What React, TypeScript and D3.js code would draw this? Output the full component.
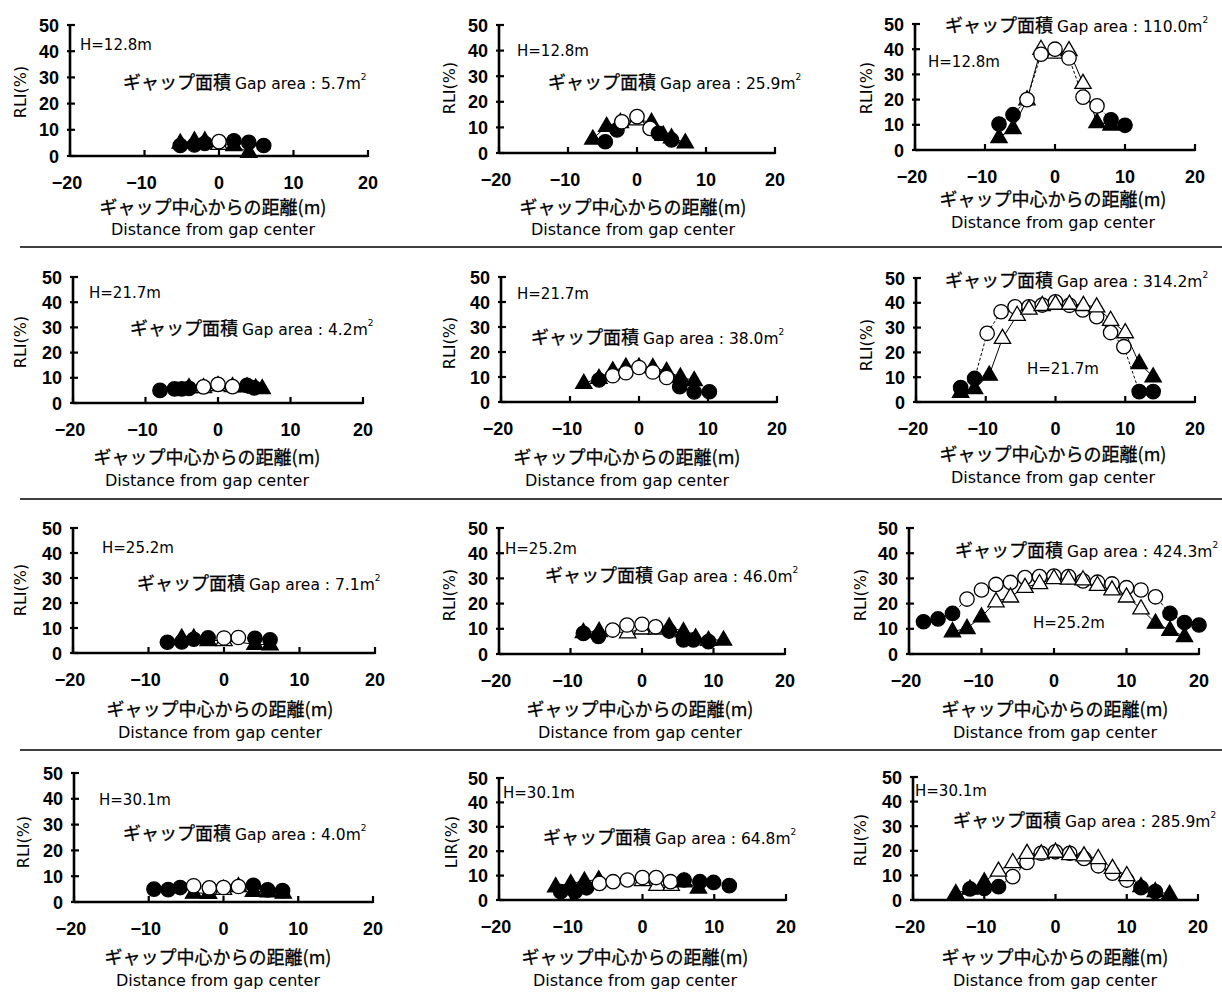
import React from 'react';
import * as d3 from 'd3';

type Pt = [number, number, number]; // distance, RLI, filled(1)/open(0)

const xTicks = [-20, -10, 0, 10, 20];
const yTicks = [0, 10, 20, 30, 40, 50];

const heights = ['12.8', '12.8', '12.8', '21.7', '21.7', '21.7', '25.2', '25.2', '25.2', '30.1', '30.1', '30.1'];
const gapAreas = ['5.7', '25.9', '110.0', '4.2', '38.0', '314.2', '7.1', '46.0', '424.3', '4.0', '64.8', '285.9'];
const yTitles = ['RLI(%)', 'RLI(%)', 'RLI(%)', 'RLI(%)', 'RLI(%)', 'RLI(%)', 'RLI(%)', 'RLI(%)', 'RLI(%)', 'RLI(%)', 'LIR(%)', 'RLI(%)'];
const xTitleJa = 'ギャップ中心からの距離(m)';
const xTitleEn = 'Distance from gap center';

const p1Circles: Pt[] = [[-5.2, 4, 1], [-3.3, 4.2, 1], [-1.9, 4.8, 1], [0, 5.5, 0], [2, 5.8, 1], [4, 5.2, 1], [6, 4, 1]];
const p1Triangles: Pt[] = [[-5.2, 5, 1], [-3.3, 5.8, 1], [-1.9, 5.8, 1], [0, 4.5, 0], [2, 4, 1], [4, 1.5, 1]];

const p2Circles: Pt[] = [[-4.6, 4.4, 1], [-2.9, 9, 1], [-2.2, 12.2, 0], [0, 14.2, 0], [1.9, 9.6, 0], [3.1, 7.7, 1], [5, 5.1, 1]];
const p2Triangles: Pt[] = [[-6.4, 5.5, 1], [-4.4, 10.5, 1], [-2.4, 12, 1], [0, 13, 0], [2.1, 12, 1], [3.8, 7, 1], [5, 6, 1], [7, 4, 1]];

const p3Circles: Pt[] = [[-8, 10.3, 1], [-6, 14, 1], [-4, 20, 0], [-2, 38, 0], [0, 40, 0], [2, 36.5, 0], [4, 21, 0], [6, 17.5, 0], [8, 12, 1], [10, 9.8, 1]];
const p3Triangles: Pt[] = [[-8, 5, 1], [-6, 8.6, 1], [-4, 20, 0], [-2, 40, 0], [0, 38.5, 0], [2, 39.5, 0], [4, 26.5, 0], [6, 11, 1], [8, 10, 1]];

const p4Circles: Pt[] = [[-8, 5, 1], [-6, 5.6, 1], [-5, 5.6, 1], [-4, 5.8, 1], [-2, 6.4, 0], [0, 7.4, 0], [2, 6.5, 0], [4, 7, 1], [5, 6, 1]];
const p4Triangles: Pt[] = [[-4, 6.2, 1], [-2, 6.2, 0], [0, 7, 0], [2, 6.6, 0], [4, 6.5, 1], [5.2, 6, 1], [6.1, 5.8, 1]];

const p5Circles: Pt[] = [[-5.8, 8.8, 1], [-3.8, 10.5, 0], [-1.9, 11.7, 0], [0, 13.8, 0], [2, 12, 0], [4, 9.8, 0], [5.9, 6.1, 1], [8, 4, 1], [10.2, 4.1, 1]];
const p5Triangles: Pt[] = [[-8, 7.5, 1], [-5.8, 9.5, 1], [-3.8, 12.5, 1], [-1.9, 14, 1], [0, 14, 1], [2, 13.8, 1], [4, 12.3, 1], [6, 10, 1], [8, 8.6, 1]];

const p6Circles: Pt[] = [[-13.6, 5.8, 1], [-11.6, 9.5, 1], [-9.8, 27.7, 0], [-7.8, 36.4, 0], [-5.8, 38.4, 0], [-3.8, 38.4, 0], [-1.9, 39.1, 0], [0, 40.4, 0], [2, 39, 0], [3.9, 37.1, 0], [5.9, 34.4, 0], [7.9, 28, 0], [9.8, 22.3, 0], [12, 4.2, 1], [14, 4.2, 1]];
const p6Triangles: Pt[] = [[-13.6, 4, 1], [-11.6, 5.5, 1], [-9.5, 10.9, 1], [-7.6, 25.7, 0], [-5.5, 35, 0], [-3.8, 37.5, 0], [-1.9, 39, 0], [0, 39.5, 0], [2, 39.5, 0], [4, 39, 0], [5.9, 38.4, 0], [7.9, 33, 0], [10, 28, 0], [12, 15.6, 1], [14, 10.2, 1]];

const p7Circles: Pt[] = [[-7.5, 4.3, 1], [-5.6, 4.4, 1], [-4, 5.5, 1], [-2.1, 6.1, 1], [0, 6, 0], [1.9, 6.2, 0], [4.1, 5.9, 1], [6.1, 5.3, 1]];
const p7Triangles: Pt[] = [[-5.6, 6, 1], [-4, 6, 1], [-2.1, 5, 1], [0, 5, 0], [4.1, 3.5, 1], [6.1, 3.3, 1]];

const p8Circles: Pt[] = [[-8.2, 8.2, 1], [-6.1, 7, 1], [-4.1, 9.5, 0], [-2.1, 11.5, 0], [0, 11.8, 0], [1.9, 10.8, 0], [3.8, 9.1, 1], [5.8, 5.6, 1], [7.2, 5.6, 1], [9.3, 4.9, 1]];
const p8Triangles: Pt[] = [[-8.2, 8.6, 1], [-6, 9, 1], [-2, 8.5, 0], [0, 10, 0], [2, 10, 0], [3.8, 10.8, 1], [5.8, 8.9, 1], [7.5, 6.5, 1], [9.3, 5.5, 1], [11.4, 5.6, 1]];

const p9Circles: Pt[] = [[-18, 12.8, 1], [-16, 13.9, 1], [-14, 16.1, 1], [-12, 21.8, 0], [-10, 25.4, 0], [-8, 27.6, 0], [-6, 28.4, 0], [-4, 30.3, 0], [-2, 30.7, 0], [0, 30.9, 0], [2, 30.7, 0], [4, 29, 0], [6, 28.5, 0], [8, 27.8, 0], [10, 26.3, 0], [12, 25.4, 0], [14, 22.7, 0], [16, 16.1, 1], [18, 12.5, 1], [20, 11.5, 1]];
const p9Triangles: Pt[] = [[-14, 8.9, 1], [-12, 10.2, 1], [-10, 14.8, 1], [-8, 20.8, 0], [-6, 22.7, 0], [-4, 26.5, 0], [-2, 28, 0], [0, 30, 0], [2, 29.8, 0], [4, 29.5, 0], [6, 27.3, 0], [8, 25.5, 0], [10, 22.7, 0], [12, 18, 0], [14, 12.3, 1], [16, 9.5, 1], [18, 7, 1]];

const p10Circles: Pt[] = [[-9.3, 5, 1], [-7.4, 4.8, 1], [-5.8, 5.6, 1], [-4, 6.3, 0], [-1.9, 5.5, 0], [0, 5.6, 0], [2, 6, 0], [4, 6.5, 1], [5.9, 4.7, 1], [7.9, 4.4, 1]];
const p10Triangles: Pt[] = [[-4, 3.5, 1], [-2, 3.4, 1], [0, 5, 0], [2, 6, 0], [4, 4.2, 1], [6, 4, 1], [8, 3.5, 1]];

const p11Circles: Pt[] = [[-11.4, 3.4, 1], [-9.4, 3.4, 1], [-7.8, 5, 1], [-6, 6.8, 0], [-4.1, 7.5, 0], [-2.1, 8.2, 0], [0, 9.2, 0], [1.9, 9.2, 0], [3.9, 7.5, 0], [5.8, 8.2, 1], [8, 7.5, 1], [9.9, 7.2, 1], [12.1, 5.9, 1]];
const p11Triangles: Pt[] = [[-12.1, 5.5, 1], [-10, 6.8, 1], [-8.1, 7.8, 1], [-6.1, 8.3, 1], [0, 8, 0], [2, 6.1, 0], [4, 6.1, 0], [5.8, 7.5, 1], [7.8, 5, 1]];

const p12Circles: Pt[] = [[-12, 4.5, 1], [-10, 4.7, 1], [-8, 5.4, 1], [-6, 9.5, 0], [-4, 15.3, 0], [-2, 19, 0], [0, 19.6, 0], [2, 19, 0], [4, 16.9, 0], [6, 13.9, 0], [8, 10.9, 0], [10, 8.1, 0], [12, 5, 1], [14, 3.4, 1]];
const p12Triangles: Pt[] = [[-14, 2.7, 1], [-12, 4.5, 1], [-10, 7.4, 1], [-8, 11.8, 0], [-6, 15.3, 0], [-4, 19, 0], [-2, 18.8, 0], [0, 19.5, 0], [2, 18.5, 0], [4, 18, 0], [6, 16.9, 0], [8, 12.9, 0], [10, 10, 0], [12, 5.5, 1], [14, 3.5, 1], [16, 2.4, 1]];

const circleSeries = [p1Circles, p2Circles, p3Circles, p4Circles, p5Circles, p6Circles, p7Circles, p8Circles, p9Circles, p10Circles, p11Circles, p12Circles];
const triangleSeries = [p1Triangles, p2Triangles, p3Triangles, p4Triangles, p5Triangles, p6Triangles, p7Triangles, p8Triangles, p9Triangles, p10Triangles, p11Triangles, p12Triangles];

// layout (pixel boxes & text anchors)
type Layout = {
  xL: number; xR: number; yT: number; yB: number;
  hX: number; hY: number; gX: number; gY: number;
  labX: number; jY: number; eY: number; ylX: number; ylY: number; triTop: boolean;
};
const layouts: Layout[] = [
  { xL: 70, xR: 368, yT: 25, yB: 156, hX: 80, hY: 50, gX: 123, gY: 89, labX: 213, jY: 214, eY: 235, ylX: 20, ylY: 92, triTop: false },
  { xL: 499, xR: 775, yT: 25, yB: 153, hX: 517, hY: 56, gX: 548, gY: 89, labX: 633, jY: 214, eY: 235, ylX: 449, ylY: 88, triTop: false },
  { xL: 915, xR: 1195, yT: 24, yB: 150, hX: 928, hY: 67, gX: 945, gY: 32, labX: 1053, jY: 206, eY: 228, ylX: 866, ylY: 88, triTop: false },
  { xL: 73, xR: 363, yT: 277, yB: 403, hX: 89, hY: 298, gX: 130, gY: 335, labX: 207, jY: 464, eY: 486, ylX: 20, ylY: 342, triTop: false },
  { xL: 501, xR: 777, yT: 277, yB: 402, hX: 517, hY: 299, gX: 531, gY: 344, labX: 627, jY: 464, eY: 486, ylX: 449, ylY: 343, triTop: false },
  { xL: 916, xR: 1195, yT: 278, yB: 402, hX: 1027, hY: 374, gX: 945, gY: 287, labX: 1053, jY: 461, eY: 483, ylX: 866, ylY: 345, triTop: true },
  { xL: 73, xR: 375, yT: 528, yB: 653, hX: 102, hY: 553, gX: 137, gY: 590, labX: 220, jY: 716, eY: 738, ylX: 20, ylY: 590, triTop: false },
  { xL: 499, xR: 785, yT: 528, yB: 654, hX: 505, hY: 554, gX: 545, gY: 582, labX: 640, jY: 716, eY: 738, ylX: 449, ylY: 595, triTop: false },
  { xL: 909, xR: 1199, yT: 528, yB: 654, hX: 1033, hY: 628, gX: 955, gY: 557, labX: 1055, jY: 716, eY: 738, ylX: 860, ylY: 595, triTop: true },
  { xL: 74, xR: 373, yT: 773, yB: 902, hX: 99, hY: 805, gX: 123, gY: 840, labX: 218, jY: 964, eY: 986, ylX: 23, ylY: 842, triTop: false },
  { xL: 499, xR: 786, yT: 778, yB: 900, hX: 503, hY: 798, gX: 543, gY: 844, labX: 635, jY: 964, eY: 986, ylX: 451, ylY: 842, triTop: false },
  { xL: 913, xR: 1198, yT: 777, yB: 900, hX: 915, hY: 796, gX: 953, gY: 827, labX: 1055, jY: 964, eY: 986, ylX: 860, ylY: 840, triTop: true },
];
const separators = [247, 499, 750];

const TICKF = '"Liberation Sans", Arial, sans-serif';
const LATIN = '"DejaVu Sans", sans-serif';
const JP = '"Noto Sans CJK JP", sans-serif';

const triPath = d3.symbol(d3.symbolTriangle, 115)()!;

function Panel({ i }: { i: number }) {
  const L = layouts[i];
  const x = d3.scaleLinear().domain([-20, 20]).range([L.xL, L.xR]);
  const y = d3.scaleLinear().domain([0, 50]).range([L.yB, L.yT]);
  const line = d3.line<Pt>().x(d => x(d[0])).y(d => y(d[1]));
  const circles = circleSeries[i];
  const tris = triangleSeries[i];

  const circleMarks = circles.map((d, k) => (
    <circle key={'c' + k} cx={x(d[0])} cy={y(d[1])} r={7.2}
      fill={d[2] ? '#000' : '#fff'} stroke="#000" strokeWidth={1.3} />
  ));
  const triMarks = tris.map((d, k) => (
    <path key={'t' + k} d={triPath} transform={`translate(${x(d[0])},${y(d[1]) + 0.5})`}
      fill={d[2] ? '#000' : '#fff'} stroke="#000" strokeWidth={1.3} />
  ));

  return (
    <g>
      <path d={line(tris) || ''} fill="none" stroke="#000" strokeWidth={1} />
      <path d={line(circles) || ''} fill="none" stroke="#000" strokeWidth={1} strokeDasharray="3,2" />
      <line x1={L.xL} x2={L.xR} y1={L.yB} y2={L.yB} stroke="#000" strokeWidth={2.6} />
      <line x1={L.xL} x2={L.xL} y1={L.yT} y2={L.yB} stroke="#000" strokeWidth={2.6} />
      {yTicks.map(t => (
        <line key={'yt' + t} x1={L.xL - 3} x2={L.xL + 5} y1={y(t)} y2={y(t)} stroke="#000" strokeWidth={2.2} />
      ))}
      {xTicks.map(t => (
        <line key={'xt' + t} x1={x(t)} x2={x(t)} y1={L.yB - 6} y2={L.yB + 1} stroke="#000" strokeWidth={2.2} />
      ))}
      {yTicks.map(t => (
        <text key={'yl' + t} x={L.xL - 11} y={y(t) + 6.5} textAnchor="end" fontFamily={TICKF} fontSize={18} fontWeight="bold">{t}</text>
      ))}
      {xTicks.map(t => (
        <text key={'xl' + t} x={x(t) - (t < 0 ? 3 : 0)} y={L.yB + 33} textAnchor="middle" fontFamily={TICKF} fontSize={18} fontWeight="bold">{t < 0 ? '\u2212' + Math.abs(t) : t}</text>
      ))}
      {L.triTop ? <>{circleMarks}{triMarks}</> : <>{triMarks}{circleMarks}</>}
      <text x={L.hX} y={L.hY} fontFamily={LATIN} fontSize={15}>H={heights[i]}m</text>
      <text x={L.gX} y={L.gY} fontFamily={JP} fontSize={18} stroke="#000" strokeWidth={0.3}>
        ギャップ面積 <tspan fontFamily={LATIN} fontSize={15.5} strokeWidth={0}>Gap area : {gapAreas[i]}m</tspan>
        <tspan fontFamily={LATIN} fontSize={9} dy={-9} strokeWidth={0}>2</tspan>
      </text>
      <text x={L.labX} y={L.jY} textAnchor="middle" fontFamily={JP} fontSize={18} stroke="#000" strokeWidth={0.3}>{xTitleJa}</text>
      <text x={L.labX} y={L.eY} textAnchor="middle" fontFamily={LATIN} fontSize={16}>{xTitleEn}</text>
      <text transform={`translate(${L.ylX},${L.ylY}) rotate(-90)`} textAnchor="middle" dominantBaseline="central" fontFamily={LATIN} fontSize={16}>{yTitles[i]}</text>
    </g>
  );
}

export default function App() {
  return (
    <svg width={1222} height={994} viewBox="0 0 1222 994"
      style={{ position: 'absolute', left: 0, top: 0, background: '#fff' }}>
      <rect x={0} y={0} width={1222} height={994} fill="#fff" />
      {separators.map(s => (
        <line key={s} x1={20} x2={1222} y1={s} y2={s} stroke="#000" strokeWidth={1.5} />
      ))}
      {layouts.map((_, i) => <Panel key={i} i={i} />)}
    </svg>
  );
}
